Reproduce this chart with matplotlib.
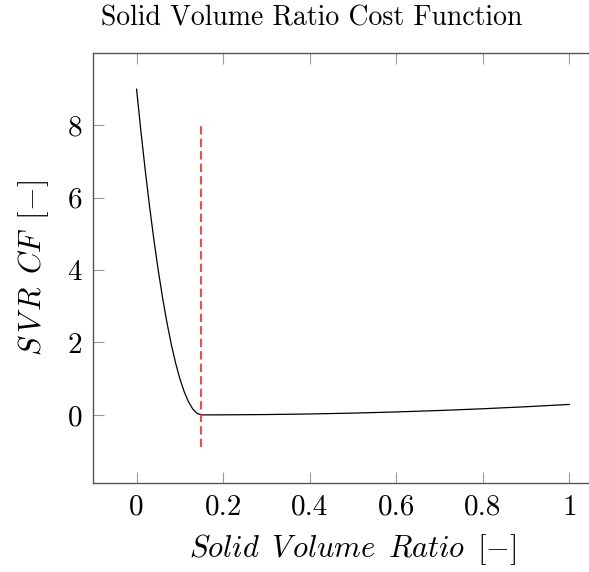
import matplotlib.pyplot as plt

plt.rcParams['font.family'] = 'serif'
plt.rcParams['font.serif'] = ['cmr10']
plt.rcParams['mathtext.fontset'] = 'cm'
plt.rcParams['axes.formatter.use_mathtext'] = True

# cost function, steep branch below the target ratio
svr_low = [0.00, 0.01, 0.02, 0.03, 0.04, 0.05, 0.06, 0.07, 0.08,
           0.09, 0.10, 0.11, 0.12, 0.13, 0.14, 0.15]
cf_low = [9.00, 7.84, 6.76, 5.76, 4.84, 4.00, 3.24, 2.56, 1.96,
          1.44, 1.00, 0.64, 0.36, 0.16, 0.04, 0.00]

# shallow branch above the target ratio
svr_high = [0.15, 0.2, 0.3, 0.4, 0.5, 0.6, 0.7, 0.8, 0.9, 1.0]
cf_high = [0.000, 0.001, 0.009, 0.025, 0.049, 0.081, 0.121, 0.169, 0.225, 0.289]

# target marker
target_x = [0.15, 0.15]
target_y = [-0.9, 8.1]

xticks = [0, 0.2, 0.4, 0.6, 0.8, 1]
xticklabels = ['0', '0.2', '0.4', '0.6', '0.8', '1']
yticks = [0, 2, 4, 6, 8]
yticklabels = ['0', '2', '4', '6', '8']

fig = plt.figure(figsize=(5.89, 5.72), dpi=100)
ax = fig.add_axes([0.1584, 0.1551, 0.8817, 0.7517])

ax.plot(svr_low + svr_high[1:], cf_low + cf_high[1:], color='black', lw=0.9)
ax.plot(target_x, target_y, color='#ff2020', lw=1.2, dashes=(5, 2.5))

ax.set_xlim(-0.1, 1.1)
ax.set_ylim(-1.89, 9.99)
ax.set_xticks(xticks)
ax.set_xticklabels(xticklabels)
ax.set_yticks(yticks)
ax.set_yticklabels(yticklabels)

ax.tick_params(direction='in', length=8, width=0.8, color='#999999',
               labelsize=21, top=True, right=True, pad=8)
for s in ax.spines.values():
    s.set_color('#555555')
    s.set_linewidth(1.0)

ax.set_xlabel(r'$Solid\ \,V\!\;olume\ \,Ratio\ \,[-]$', fontsize=22, labelpad=8)
ax.set_ylabel(r'$S\,V\,R\ \,C\!\,F\ \,[-]$', fontsize=22, labelpad=12)
fig.text(312 / 589, 1 - 18 / 572, 'Solid Volume Ratio Cost Function',
         ha='center', va='center', fontsize=20)

fig.savefig('out.png', dpi=100)
